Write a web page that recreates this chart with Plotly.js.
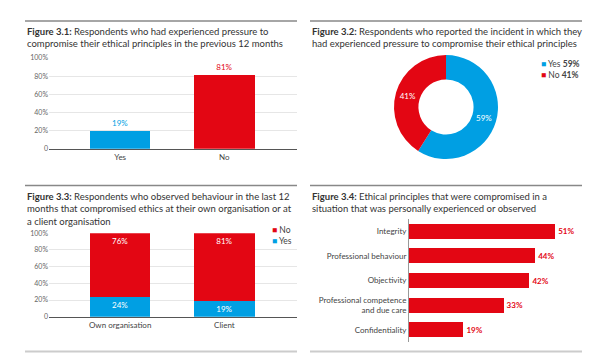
<!DOCTYPE html>
<html>
<head>
<meta charset="utf-8">
<script src="https://cdn.plot.ly/plotly-3.0.1.min.js"></script>
<style>html,body{margin:0;padding:0;background:#fff;}#chart{width:600px;height:360px;}</style>
</head>
<body>
<div id="chart"></div>
<script>
// ---- Data ----
var fig1Categories = ['Yes', 'No'];
var fig1Values = [19, 81];

var fig2Labels = ['Yes', 'No'];
var fig2Values = [59, 41];

var fig3Categories = ['Own organisation', 'Client'];
var fig3Yes = [24, 19];
var fig3No = [76, 81];

var fig4Categories = ['Integrity', 'Professional behaviour', 'Objectivity', 'Professional competence<br>and due care', 'Confidentiality'];
var fig4Values = [51, 44, 42, 33, 19];

var yTickVals = [0, 20, 40, 60, 80, 100];
var yTickText = ['0', '20%', '40%', '60%', '80%', '100%'];

// ---- Styles ----
var BLUE = '#009fe3';
var RED = '#e30613';
var FONT = 'Lato, "Open Sans", sans-serif';
var W = 600, H = 360;
function px(x) { return x / W; }
function py(y) { return 1 - y / H; }
function pct(v) { return v + '%'; }

var traces = [
  {
    type: 'bar', x: fig1Categories, y: fig1Values, xaxis: 'x', yaxis: 'y',
    marker: {color: [BLUE, RED]}, width: 0.58,
    text: fig1Values.map(pct), textposition: 'outside', cliponaxis: false,
    textfont: {size: 8, color: [BLUE, RED], family: FONT},
    showlegend: false, hoverinfo: 'x+y'
  },
  {
    type: 'pie', labels: fig2Labels, values: fig2Values,
    domain: {x: [px(394), px(498)], y: [py(159), py(55)]},
    hole: 0.53, sort: false, direction: 'clockwise', rotation: 0,
    marker: {colors: [BLUE, RED], line: {width: 0}},
    texttemplate: '%{value}%', textposition: 'inside',
    insidetextorientation: 'horizontal',
    textfont: {size: 8, color: '#fff', family: FONT},
    automargin: false, showlegend: false
  },
  {
    type: 'bar', name: 'Yes', x: fig3Categories, y: fig3Yes, xaxis: 'x2', yaxis: 'y2',
    marker: {color: BLUE}, width: 0.58,
    text: fig3Yes.map(pct), textposition: 'inside', insidetextanchor: 'end',
    textfont: {size: 8, color: '#fff', family: FONT}, constraintext: 'none',
    showlegend: false
  },
  {
    type: 'bar', name: 'No', x: fig3Categories, y: fig3No, xaxis: 'x2', yaxis: 'y2',
    marker: {color: RED}, width: 0.58,
    text: fig3No.map(pct), textposition: 'inside', insidetextanchor: 'end',
    textfont: {size: 8, color: '#fff', family: FONT}, constraintext: 'none',
    showlegend: false
  },
  {
    type: 'bar', orientation: 'h', x: fig4Values, y: fig4Categories, xaxis: 'x3', yaxis: 'y3',
    marker: {color: RED}, width: 0.61,
    text: fig4Values.map(function(v){return '<b>' + v + '%</b>';}), textposition: 'outside', cliponaxis: false,
    textfont: {size: 8, color: RED, family: FONT},
    showlegend: false
  }
];

var tickFont = {size: 7, color: '#666', family: FONT};
var catFont = {size: 8, color: '#444', family: FONT};

function vAxis(domain) {
  return {
    domain: domain, range: [0, 100], tickvals: yTickVals, ticktext: yTickText,
    showgrid: true, gridcolor: '#e6e6e6', gridwidth: 1,
    zeroline: false, showline: false, ticks: '', tickfont: tickFont, fixedrange: true
  };
}
function cAxis(domain, anchor) {
  return {
    domain: domain, anchor: anchor, range: [-0.683, 1.697], type: 'category',
    showgrid: false, zeroline: false, showline: true, linecolor: '#555', linewidth: 1.5,
    ticks: '', tickfont: catFont, fixedrange: true
  };
}

function title(x, yTop, bold, rest) {
  return {
    xref: 'paper', yref: 'paper', x: px(x), y: py(yTop), xanchor: 'left', yanchor: 'top',
    align: 'left', showarrow: false,
    text: '<b>' + bold + '</b> ' + rest,
    font: {size: 9.5, color: '#333', family: FONT}
  };
}
function legendNote(x, yTop, items) {
  return {
    xref: 'paper', yref: 'paper', x: px(x), y: py(yTop), xanchor: 'left', yanchor: 'top',
    align: 'left', showarrow: false,
    text: items.map(function(it){ return '<span style="color:' + it[0] + '">■</span> ' + it[1]; }).join('<br>'),
    font: {size: 8.5, color: '#444', family: FONT}
  };
}

function rule(x0, x1, y, color, width) {
  return {type: 'line', xref: 'paper', yref: 'paper', x0: px(x0), x1: px(x1), y0: py(y), y1: py(y),
          line: {color: color, width: width}};
}

var layout = {
  width: W, height: H, margin: {l: 0, r: 0, t: 0, b: 0},
  paper_bgcolor: '#fff', plot_bgcolor: 'rgba(0,0,0,0)',
  font: {family: FONT},
  barmode: 'stack', showlegend: false,
  xaxis: cAxis([px(49), px(297)], 'y'),
  yaxis: vAxis([py(148.7), py(58)]),
  xaxis2: cAxis([px(49), px(297)], 'y2'),
  yaxis2: Object.assign(vAxis([py(316.7), py(233.3)]), {anchor: 'x2'}),
  xaxis3: {domain: [px(409), px(581)], anchor: 'y3', range: [0, 60], visible: false, fixedrange: true},
  yaxis3: {domain: [py(342), py(219)], anchor: 'x3', autorange: 'reversed', type: 'category',
           showgrid: false, zeroline: false, showline: true, linecolor: '#999', linewidth: 1,
           ticks: '', tickfont: catFont, fixedrange: true},
  annotations: [
    title(25, 24, 'Figure 3.1:', 'Respondents who had experienced pressure to<br>compromise their ethical principles in the previous 12 months'),
    title(310, 24, 'Figure 3.2:', 'Respondents who reported the incident in which they<br>had experienced pressure to compromise their ethical principles'),
    title(25, 188.5, 'Figure 3.3:', 'Respondents who observed behaviour in the last 12<br>months that compromised ethics at their own organisation or at<br>a client organisation'),
    title(310, 188.5, 'Figure 3.4:', 'Ethical principles that were compromised in a<br>situation that was personally experienced or observed'),
    legendNote(539, 57, [[BLUE, 'Yes <b>' + fig2Values[0] + '%</b>'], [RED, 'No <b>' + fig2Values[1] + '%</b>']]),
    legendNote(270, 223, [[RED, 'No'], [BLUE, 'Yes']])
  ],
  shapes: [
    rule(25, 297, 21, '#888', 1.5),
    rule(310, 582, 21, '#888', 1.5),
    rule(25, 297, 185.5, '#888', 1.5),
    rule(310, 582, 185.5, '#888', 1.5),
    rule(25, 297, 351.5, '#ccc', 2),
    rule(310, 582, 351.5, '#ccc', 2)
  ]
};

Plotly.newPlot('chart', traces, layout, {displayModeBar: false, staticPlot: true});
</script>
</body>
</html>
